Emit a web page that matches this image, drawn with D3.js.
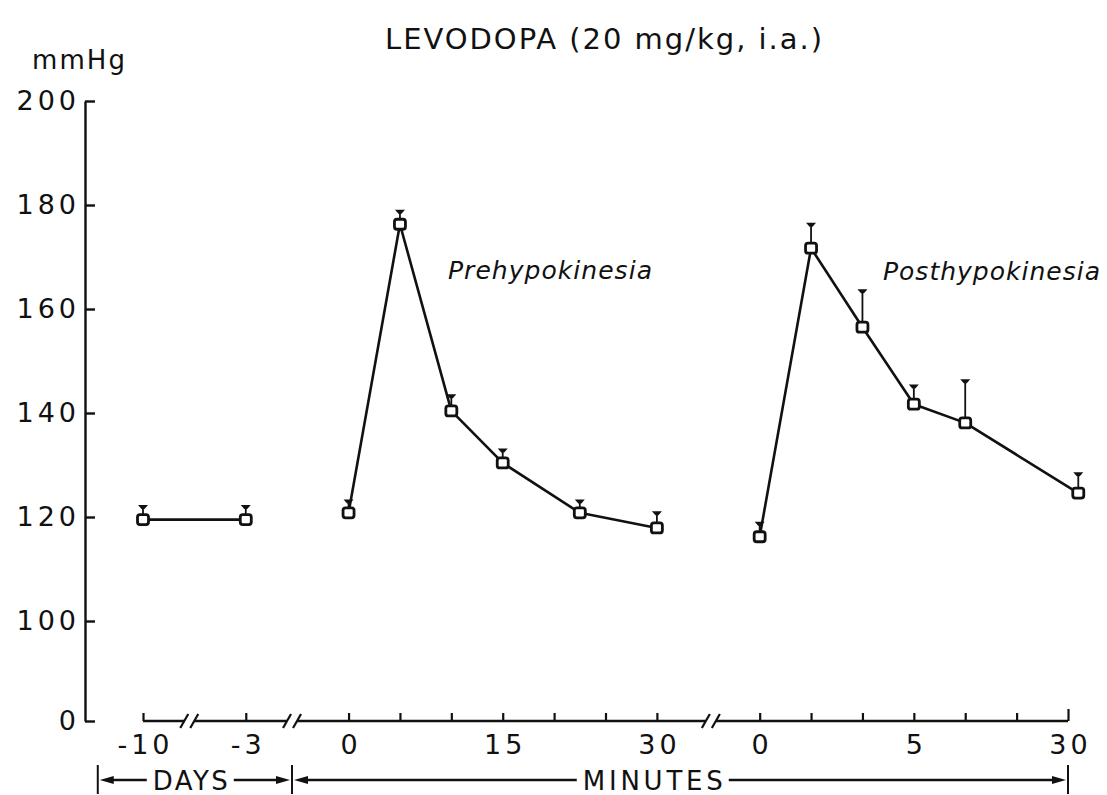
<!DOCTYPE html>
<html>
<head>
<meta charset="utf-8">
<script src="https://cdn.jsdelivr.net/npm/d3@7"></script>
<style>
  html, body { margin: 0; padding: 0; background: #fff; }
  svg { display: block; }
  text { font-family: "DejaVu Sans", sans-serif; fill: #111; }
</style>
</head>
<body>
<svg id="chart" width="1107" height="795"></svg>
<script>
// Arterial pressure (mmHg) after levodopa, 20 mg/kg i.a.
const yTickValues = [0, 100, 120, 140, 160, 180, 200];

// Horizontal positions are tick slots along the broken time axis
const tickSlots  = [0, 2, 4, 5, 6, 7, 8, 9, 10, 12, 13, 14, 15, 16, 17, 18];
const tickLabels = ["-10", "-3", "0", "", "", "15", "", "", "30", "0", "", "", "5", "", "", "30"];
const breakSlots = [0.9, 2.9, 11.05];

// Baseline days
const daySlots  = [0, 2];
const dayValues = [119.5, 119.5];
const dayErrors = [2.5, 2.5];

// Prehypokinesia, minutes after injection
const preSlots  = [4, 5, 6, 7, 8.5, 10];
const preValues = [120.8, 176.3, 140.4, 130.4, 120.8, 117.9];
const preErrors = [2.3, 2.5, 2.9, 2.5, 2.3, 2.9];

// Posthypokinesia, minutes after injection
const postSlots  = [12, 13, 14, 15, 16, 18.2];
const postValues = [116.2, 171.7, 156.5, 141.7, 138.1, 124.6];
const postErrors = [2.6, 4.6, 7.0, 3.5, 8.1, 3.7];

const spanLabels = ["DAYS", "MINUTES"];

const series = [
  { slots: daySlots,  values: dayValues,  errors: dayErrors },
  { slots: preSlots,  values: preValues,  errors: preErrors },
  { slots: postSlots, values: postValues, errors: postErrors }
].map(s => s.slots.map((sl, i) => ({ slot: sl, value: s.values[i], err: s.errors[i] })));

const svg = d3.select("#chart");

const x = d3.scaleLinear().domain([0, 18]).range([143, 1068]);
// y axis is broken between 0 and 100
const y = d3.scaleLinear().domain([0, 100, 200]).range([721, 621, 101]);

const yAxisX = 85;
const xAxisY = 721;
const digitSpacing = 4;
const ink = "#111";

// ---- y axis ----
const gy = svg.append("g")
  .attr("transform", `translate(${yAxisX},0)`)
  .call(d3.axisLeft(y).tickValues(yTickValues).tickSizeInner(-10).tickSizeOuter(0).tickPadding(5));
gy.select(".domain").attr("stroke", ink).attr("stroke-width", 2.4);
gy.selectAll(".tick line").attr("stroke", ink).attr("stroke-width", 2.4);
gy.selectAll(".tick text")
  .attr("font-size", 27)
  .attr("font-family", "DejaVu Sans, sans-serif")
  .style("letter-spacing", digitSpacing + "px")
  .attr("fill", ink);

// ---- x axis (ticks point up, labels below) ----
const gx = svg.append("g")
  .attr("transform", `translate(0,${xAxisY})`)
  .call(d3.axisBottom(x)
    .tickValues(tickSlots)
    .tickFormat(d => tickLabels[tickSlots.indexOf(d)])
    .tickSizeInner(-8).tickSizeOuter(0).tickPadding(14));
gx.select(".domain").remove();
gx.selectAll(".tick line").attr("stroke", ink).attr("stroke-width", 2.2);
gx.selectAll(".tick").filter(d => d === 18).select("line").attr("y2", -12);
gx.selectAll(".tick text")
  .attr("font-size", 27)
  .attr("font-family", "DejaVu Sans, sans-serif")
  .attr("dx", digitSpacing / 2)
  .style("letter-spacing", digitSpacing + "px")
  .attr("fill", ink);

// axis baseline in pieces, interrupted at each break
const gap = 5;
const edges = [x(0)];
breakSlots.forEach(b => { edges.push(x(b) - gap, x(b) + gap); });
edges.push(x(18));
for (let i = 0; i < edges.length; i += 2) {
  svg.append("line")
    .attr("x1", edges[i]).attr("x2", edges[i + 1])
    .attr("y1", xAxisY).attr("y2", xAxisY)
    .attr("stroke", ink).attr("stroke-width", 2.4);
}
// break marks "//"
breakSlots.forEach(b => {
  [-gap, gap].forEach(off => {
    const cx = x(b) + off;
    svg.append("line")
      .attr("x1", cx - 4).attr("y1", xAxisY + 7)
      .attr("x2", cx + 4).attr("y2", xAxisY - 7)
      .attr("stroke", ink).attr("stroke-width", 2.2);
  });
});

// ---- data: lines, error bars, square markers ----
const line = d3.line().x(d => x(d.slot)).y(d => y(d.value));
series.forEach(pts => {
  svg.append("path")
    .attr("d", line(pts))
    .attr("fill", "none")
    .attr("stroke", ink)
    .attr("stroke-width", 2.6)
    .attr("stroke-linejoin", "round");
});

series.forEach(pts => {
  const g = svg.append("g");
  pts.forEach(d => {
    const cx = x(d.slot), cy = y(d.value), top = y(d.value + d.err);
    g.append("line")
      .attr("x1", cx).attr("x2", cx)
      .attr("y1", cy - 5).attr("y2", top)
      .attr("stroke", ink).attr("stroke-width", 1.8);
    g.append("path")
      .attr("d", `M${cx - 5},${top - 1.5}L${cx + 5},${top - 1.5}L${cx + 1.5},${top + 2.5}L${cx - 1.5},${top + 2.5}Z`)
      .attr("fill", ink);
    g.append("rect")
      .attr("x", cx - 5.5).attr("y", cy - 5)
      .attr("width", 11).attr("height", 10)
      .attr("rx", 2.5)
      .attr("fill", "#fff")
      .attr("stroke", ink)
      .attr("stroke-width", 2.8);
  });
});

// ---- texts ----
svg.append("text")
  .attr("x", 385).attr("y", 49)
  .attr("font-size", 29)
  .attr("textLength", 437).attr("lengthAdjust", "spacing")
  .text("LEVODOPA (20 mg/kg, i.a.)");

svg.append("text")
  .attr("x", 32).attr("y", 69)
  .attr("font-size", 26)
  .attr("textLength", 93).attr("lengthAdjust", "spacing")
  .text("mmHg");

svg.append("text")
  .attr("x", 448).attr("y", 279)
  .attr("font-size", 25).attr("font-style", "italic")
  .attr("textLength", 204).attr("lengthAdjust", "spacing")
  .text("Prehypokinesia");

svg.append("text")
  .attr("x", 883).attr("y", 280)
  .attr("font-size", 25).attr("font-style", "italic")
  .attr("textLength", 217).attr("lengthAdjust", "spacing")
  .text("Posthypokinesia");

// ---- DAYS / MINUTES span indicators ----
const rowY = 780;
const barX = [x(-0.88), x(breakSlots[1]), x(18)];
const labelX = [x(0.92), x(9.92)];
const labelW = [75, 140];

barX.forEach(bx => {
  svg.append("line")
    .attr("x1", bx).attr("x2", bx)
    .attr("y1", rowY - 15).attr("y2", rowY + 14)
    .attr("stroke", ink).attr("stroke-width", 2);
});

function arrow(x0, x1) {
  // shaft from x0 to tip at x1 with a filled head
  const dir = Math.sign(x1 - x0);
  svg.append("line")
    .attr("x1", x0).attr("x2", x1 - dir * 10)
    .attr("y1", rowY).attr("y2", rowY)
    .attr("stroke", ink).attr("stroke-width", 2.4);
  svg.append("path")
    .attr("d", `M${x1},${rowY}L${x1 - dir * 14},${rowY - 4}L${x1 - dir * 14},${rowY + 4}Z`)
    .attr("fill", ink);
}

spanLabels.forEach((lab, i) => {
  const left = labelX[i] - labelW[i] / 2;
  const right = labelX[i] + labelW[i] / 2;
  svg.append("text")
    .attr("x", left).attr("y", rowY + 10)
    .attr("font-size", 26)
    .attr("textLength", labelW[i]).attr("lengthAdjust", "spacing")
    .text(lab);
  arrow(left - 6, barX[i] + 2);
  arrow(right + 6, barX[i + 1] - 2);
});
</script>
</body>
</html>
